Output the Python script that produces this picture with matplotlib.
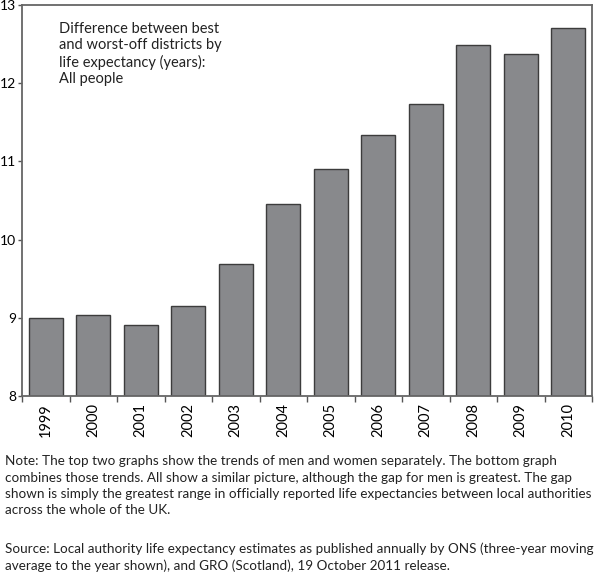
import matplotlib
matplotlib.use('Agg')
import matplotlib.pyplot as plt
import numpy as np

# Data
years = ['1999', '2000', '2001', '2002', '2003', '2004',
         '2005', '2006', '2007', '2008', '2009', '2010']
gap = [9.00, 9.04, 8.91, 9.15, 9.69, 10.45,
       10.90, 11.34, 11.73, 12.49, 12.37, 12.71]
y_ticks = [8, 9, 10, 11, 12, 13]

title_text = ('Difference between best\nand worst-off districts by\n'
              'life expectancy (years):\nAll people')
note_text = ('Note: The top two graphs show the trends of men and women separately. The bottom graph\n'
             'combines those trends. All show a similar picture, although the gap for men is greatest. The gap\n'
             'shown is simply the greatest range in officially reported life expectancies between local authorities\n'
             'across the whole of the UK.')
source_text = ('Source: Local authority life expectancy estimates as published annually by ONS (three-year moving\n'
               'average to the year shown), and GRO (Scotland), 19 October 2011 release.')

plt.rcParams['font.family'] = ['Lato', 'DejaVu Sans']

fig = plt.figure(figsize=(6.0, 5.76), dpi=100)
ax = fig.add_axes([22/600, 1 - 396/576, 570/600, 391/576])

x = np.arange(len(years))
ax.bar(x, [g - 8 for g in gap], bottom=8, width=0.72,
       color='#88898c', edgecolor='#3c3c3c', linewidth=1.0)

ax.set_xlim(-0.5, len(years) - 0.5)
ax.set_ylim(8, 13)
ax.set_yticks(y_ticks)
ax.set_yticklabels([str(t) for t in y_ticks], fontsize=10)

# labels in the middle, tick marks on the boundaries
ax.set_xticks(x)
ax.set_xticklabels(years, rotation=90, fontsize=10.5)
ax.tick_params(axis='x', which='major', length=0, pad=5)
ax.set_xticks(np.arange(-0.5, len(years)), minor=True)
ax.tick_params(axis='x', which='minor', length=4, width=1, color='#555555')
ax.tick_params(axis='y', length=3, width=1, color='#555555', pad=1)

for s in ax.spines.values():
    s.set_color('#666666')
    s.set_linewidth(1.3)

ax.text(37/570, 1 - 17/391, title_text, transform=ax.transAxes, va='top', ha='left',
        fontsize=10.5, color='#222222', linespacing=1.2)

fig.text(5/600, 1 - 455/576, note_text, va='top', ha='left', fontsize=9.7,
         color='#222222', linespacing=1.45)
fig.text(5/600, 1 - 542/576, source_text, va='top', ha='left', fontsize=9.7,
         color='#222222', linespacing=1.45)

fig.savefig('out.png', dpi=100)
